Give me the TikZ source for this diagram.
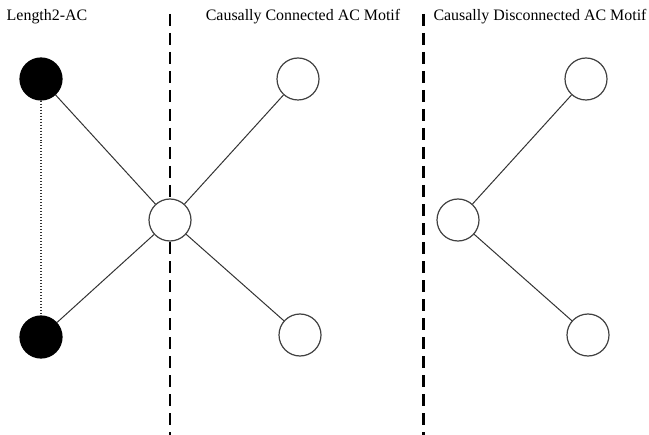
\documentclass[tikz,border=0pt]{standalone}
\usepackage{fontspec}
\setmainfont{Liberation Serif}
\usetikzlibrary{positioning}

\begin{document}
\begin{tikzpicture}[x=1bp, y=-1bp,
  vertex/.style={draw=black!75, line width=1.2bp, circle, minimum size=42bp, inner sep=0pt, fill=white},
  cause/.style={vertex, fill=black, draw=black},
  edge/.style={draw=black!80, line width=1bp},
  divider/.style={draw=black, line width=2.5bp, dash pattern=on 12bp off 7bp},
  title/.style={font=\fontsize{16}{18}\selectfont}]
%%
  \useasboundingbox (0,0) rectangle (649,435);
  \coordinate (d1top) at (170,14);
  \coordinate (d1bot) at (170,435);
  \coordinate (d2top) at (423.5,14);
  \coordinate (d2bot) at (423.5,435);
  \draw [divider] (d1top) -- (d1bot);
  \draw [divider] (d2top) -- (d2bot);
%
  \node (t1) at (47,17) [title] {Length2-AC};
  \node (t2) at (303,17) [title] {Causally Connected AC Motif};
  \node (t3) at (540,17) [title] {Causally Disconnected AC Motif};
%
  \node (a1) at (41,79) [cause] {};
  \node (a2) at (41,337) [cause] {};
  \node (c) at (170,220) [vertex] {};
  \node (m1) at (298,79) [vertex] {};
  \node (m2) at (300,335) [vertex] {};
  \node (r0) at (458,220) [vertex] {};
  \node (r1) at (586,79) [vertex] {};
  \node (r2) at (588,335) [vertex] {};
%
  \draw [edge, dotted, line width=1.2bp] (a1) -- (a2);
  \draw [edge] (a1) -- (c);
  \draw [edge] (a2) -- (c);
  \draw [edge] (m1) -- (c);
  \draw [edge] (m2) -- (c);
  \draw [edge] (r0) -- (r1);
  \draw [edge] (r0) -- (r2);
%
\end{tikzpicture}
\end{document}
